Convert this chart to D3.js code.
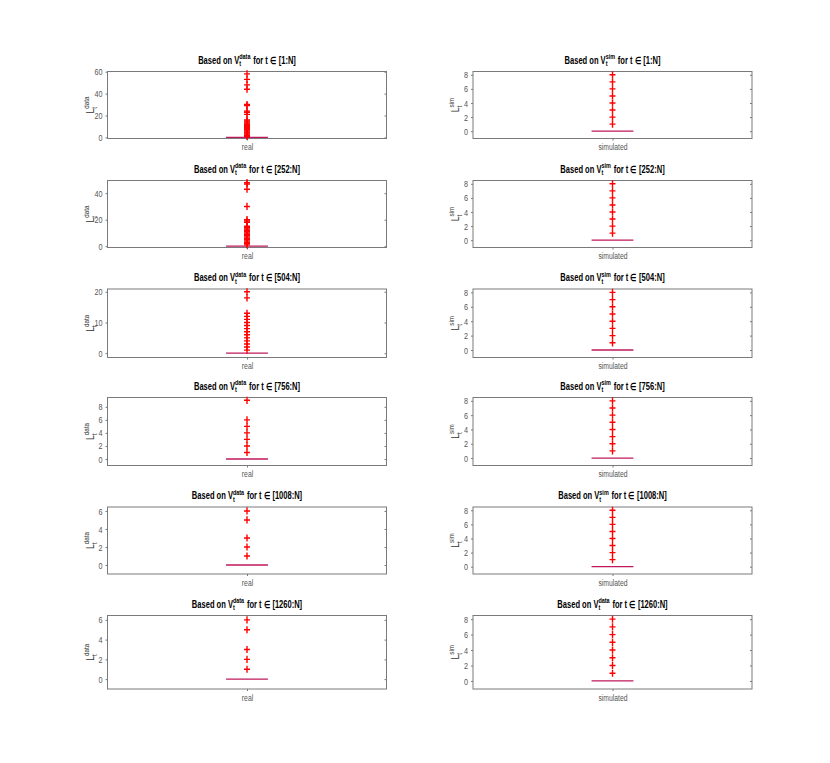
<!DOCTYPE html>
<html>
<head>
<meta charset="utf-8">
<script src="https://cdn.jsdelivr.net/npm/d3@7"></script>
<style>
  body { margin: 0; background: #fff; }
  text { font-family: "Liberation Sans", Arial, sans-serif; }
</style>
</head>
<body>
<svg id="chart" width="830" height="763"></svg>
<script>
// data: outliers of L_t (all quartiles / median are 0)
const periods = ["1:N", "252:N", "504:N", "756:N", "1008:N", "1260:N"];
const realOutliers = [
  [1, 2, 3, 4, 5, 6, 7, 8, 9, 10, 11, 12, 13, 14, 15, 16, 21, 23, 24, 29, 30, 44, 48, 53, 58],
  [1, 2, 3, 4, 5, 6, 7, 8, 9, 10, 11, 12, 13, 14, 15, 18, 19, 20, 30, 43, 47, 48],
  [1, 2, 3, 4, 5, 6, 7, 8, 9, 10, 11, 12, 13, 18, 20],
  [1, 2, 3, 4, 5, 6, 9],
  [1, 2, 3, 5, 6],
  [1, 2, 3, 5, 6]
];
const simOutliers = [
  [1, 2, 3, 4, 5, 6, 7, 8],
  [1, 2, 3, 4, 5, 6, 7, 8],
  [1, 2, 3, 4, 5, 6, 7, 8],
  [1, 2, 3, 4, 5, 6, 7, 8],
  [1, 2, 3, 4, 5, 6, 7, 8],
  [1, 2, 3, 4, 5, 6, 7, 8]
];
const realMedian = [0, 0, 0, 0, 0, 0];
const simMedian = [0, 0, 0, 0, 0, 0];
const realYDomain = [[-1, 60.2], [-1, 49.6], [-1.4, 20.9], [-1, 9.43], [-1, 6.44], [-1, 6.44]];
const simYDomain = [-1.04, 8.47];
const realTicks = [[0, 20, 40, 60], [0, 20, 40], [0, 10, 20], [0, 2, 4, 6, 8], [0, 2, 4, 6], [0, 2, 4, 6]];
const simTicks = [0, 2, 4, 6, 8];
const simTitleSup = ["sim", "sim", "sim", "sim", "sim", "data"];

// layout (pixels)
const colLeft = [107.5, 473];
const colWidth = 279;
const rowTop = [71.5, 180.5, 289, 397.5, 507, 615.5];
const rowH = [67, 67, 68.5, 68, 67, 73.5];
const axisColor = "#7a7a7a";
const narrow = 0.72;   // the reference uses a condensed Helvetica

const svg = d3.select("#chart");
svg.append("rect").attr("width", 830).attr("height", 763).attr("fill", "#fff");

// text with a stacked sub/superscript, like MATLAB's TeX "V_t^{data}"
function texText(sel, base, sub, sup, rest, size) {
  const small = size * 0.72;
  sel.append("tspan").text(base);
  const supT = sel.append("tspan").attr("dy", -size * 0.42).attr("font-size", small).text(sup);
  const subT = sel.append("tspan").attr("dy", size * 0.7).attr("font-size", small).text(sub);
  const supW = supT.node().getComputedTextLength();
  const subW = subT.node().getComputedTextLength();
  subT.attr("dx", -supW);
  if (rest) {
    sel.append("tspan").attr("dx", Math.max(0, supW - subW) + 1).attr("dy", -size * 0.28).text(rest);
  }
}

// squeeze axis tick labels horizontally, keeping their anchor point
function condense(axisG, k) {
  axisG.selectAll("text").each(function() {
    const t = d3.select(this);
    const xa = +(t.attr("x") || 0);
    t.attr("x", xa / k).attr("transform", "scale(" + k + ",1)");
  });
}

function panel(col, row, cat, outliers, median, yDomain, ticks, supLabel, titleSup) {
  const x0 = colLeft[col], y0 = rowTop[row], w = colWidth, h = rowH[row];
  const g = svg.append("g").attr("transform", "translate(" + x0 + "," + y0 + ")");

  const x = d3.scalePoint().domain([cat]).range([0, w]).padding(0.5);
  const y = d3.scaleLinear().domain(yDomain).range([h, 0]);
  const boxW = w * 0.15;

  // frame
  g.append("rect").attr("width", w).attr("height", h)
    .attr("fill", "none").attr("stroke", axisColor).attr("stroke-width", 1);

  // y axis (left) and mirrored ticks on right
  const yAxis = g.append("g").call(d3.axisLeft(y).tickValues(ticks).tickSize(2).tickPadding(3));
  yAxis.select(".domain").remove();
  yAxis.selectAll("line").attr("stroke", axisColor);
  yAxis.selectAll("text").attr("font-size", 9.5).attr("fill", "#555");
  condense(yAxis, 0.76);
  const yRight = g.append("g").call(d3.axisLeft(y).tickValues(ticks).tickSize(2).tickFormat(""))
    .attr("transform", "translate(" + w + ",0)");
  yRight.select(".domain").remove();
  yRight.selectAll("line").attr("stroke", axisColor);

  // x axis
  const xAxis = g.append("g").attr("transform", "translate(0," + h + ")")
    .call(d3.axisBottom(x).tickSize(2).tickPadding(3));
  xAxis.select(".domain").remove();
  xAxis.selectAll("line").attr("stroke", axisColor);
  xAxis.selectAll("text").attr("font-size", 9.5).attr("fill", "#555");
  condense(xAxis, narrow);

  // box (collapsed at the median) + median line
  g.append("line")
    .attr("x1", x(cat) - boxW / 2).attr("x2", x(cat) + boxW / 2)
    .attr("y1", y(median)).attr("y2", y(median))
    .attr("stroke", "#c0185c").attr("stroke-width", 1.3);

  // outliers
  g.selectAll("path.out")
    .data(outliers)
    .join("path")
      .attr("class", "out")
      .attr("d", "M-3,0H3M0,-3.6V3.6")
      .attr("transform", function(d) { return "translate(" + x(cat) + "," + y(d) + ")"; })
      .attr("stroke", "#ff0000")
      .attr("stroke-width", 1.4)
      .attr("fill", "none");

  // title
  const title = g.append("g")
    .attr("transform", "translate(" + (w / 2) + ",-8) scale(" + narrow + ",1)")
    .append("text")
    .attr("text-anchor", "middle")
    .attr("font-size", 10.5).attr("font-weight", "bold").attr("fill", "#000");
  texText(title, "Based on V", "t", titleSup, " for t \u2208 [" + periods[row] + "]", 10.5);

  // y label
  const ylab = g.append("g")
    .attr("transform", "translate(-14," + (h / 2) + ") rotate(-90) scale(0.8,1)")
    .append("text")
    .attr("text-anchor", "middle")
    .attr("font-size", 11).attr("fill", "#333");
  texText(ylab, "L", "t", supLabel, "", 11);
}

periods.forEach(function(p, i) {
  panel(0, i, "real", realOutliers[i], realMedian[i], realYDomain[i], realTicks[i], "data", "data");
  panel(1, i, "simulated", simOutliers[i], simMedian[i], simYDomain, simTicks, "sim", simTitleSup[i]);
});
</script>
</body>
</html>
